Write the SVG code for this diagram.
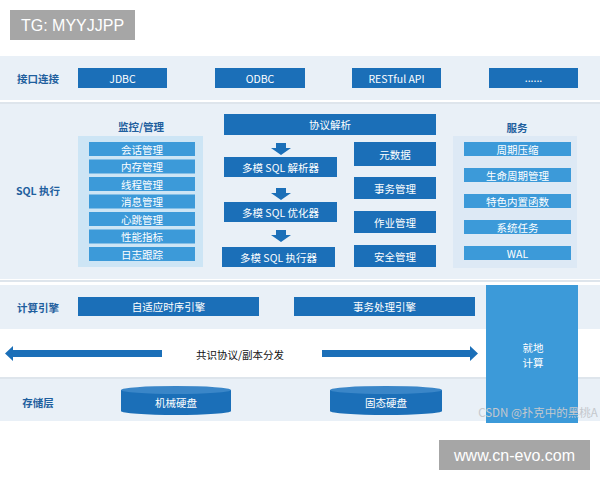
<svg xmlns="http://www.w3.org/2000/svg" width="600" height="480" viewBox="0 0 600 480">
<style>
text{font-family:"Noto Sans CJK SC","Liberation Sans",sans-serif;}
.band{fill:#e9f0f7;}
.sep{stroke:#d3dce6;stroke-width:1.5;}
.lbl{font-size:10.5px;font-weight:bold;fill:#1f5f9e;text-anchor:middle;dominant-baseline:central;}
.dk{fill:#1b6fb8;}
.md{fill:#3c9ad9;}
.wt{font-size:10.5px;fill:#ffffff;text-anchor:middle;dominant-baseline:central;}
.bt{font-size:10.5px;fill:#111111;text-anchor:middle;dominant-baseline:central;}
.wm{fill:#a6a6a6;}
.wmt{font-family:"Liberation Sans",sans-serif;font-size:16px;fill:#ffffff;text-anchor:middle;dominant-baseline:central;}
</style>
<rect width="600" height="480" fill="#ffffff"/>
<!-- bands -->
<rect class="band" x="0" y="56" width="600" height="44"/>
<line class="sep" x1="0" y1="103" x2="600" y2="103"/>
<rect class="band" x="0" y="104" width="600" height="175"/>
<line class="sep" x1="0" y1="281" x2="600" y2="281"/>
<rect class="band" x="0" y="285" width="600" height="44"/>
<line class="sep" x1="0" y1="378" x2="600" y2="378"/>
<rect class="band" x="0" y="379" width="600" height="42"/>

<g id="watermark-tg"><rect class="wm" x="10" y="10" width="125" height="30"/><text class="wmt" x="72.5" y="25">TG: MYYJJPP</text></g>

<g id="layer-labels">
<text class="lbl" x="38" y="78">接口连接</text>
<text class="lbl" x="38" y="190">SQL 执行</text>
<text class="lbl" x="38" y="307">计算引擎</text>
<text class="lbl" x="38" y="402">存储层</text>
</g>

<g id="interfaces">
<g id="jdbc"><rect class="dk" x="78" y="68" width="89" height="20"/><text class="wt" x="122.5" y="78">JDBC</text></g>
<g id="odbc"><rect class="dk" x="215" y="68" width="90" height="20"/><text class="wt" x="260" y="78">ODBC</text></g>
<g id="restful"><rect class="dk" x="352" y="68" width="89" height="20"/><text class="wt" x="396.5" y="78">RESTful API</text></g>
<g id="more"><rect class="dk" x="489" y="68" width="89" height="20"/><text class="wt" x="533.5" y="77">......</text></g>
</g>

<g id="monitor">
<text class="lbl" x="141" y="126">监控/管理</text>
<rect x="78" y="136" width="125" height="131" fill="#cde5f5"/>
<g id="m1"><rect class="md" x="89" y="142" width="106" height="14"/><text class="wt" x="142" y="149">会话管理</text></g>
<g id="m2"><rect class="md" x="89" y="159.5" width="106" height="14"/><text class="wt" x="142" y="166.5">内存管理</text></g>
<g id="m3"><rect class="md" x="89" y="177" width="106" height="14"/><text class="wt" x="142" y="184">线程管理</text></g>
<g id="m4"><rect class="md" x="89" y="194.5" width="106" height="14"/><text class="wt" x="142" y="201.5">消息管理</text></g>
<g id="m5"><rect class="md" x="89" y="212" width="106" height="14"/><text class="wt" x="142" y="219">心跳管理</text></g>
<g id="m6"><rect class="md" x="89" y="229.5" width="106" height="14"/><text class="wt" x="142" y="236.5">性能指标</text></g>
<g id="m7"><rect class="md" x="89" y="247" width="106" height="14"/><text class="wt" x="142" y="254">日志跟踪</text></g>
</g>

<g id="protocol"><rect class="dk" x="224" y="114" width="212" height="21"/><text class="wt" x="330" y="124.5">协议解析</text></g>
<g id="parser"><rect class="dk" x="224" y="157" width="113" height="20"/><text class="wt" x="280.5" y="167">多模 SQL 解析器</text></g>
<g id="optimizer"><rect class="dk" x="224" y="202" width="113" height="20"/><text class="wt" x="280.5" y="212">多模 SQL 优化器</text></g>
<g id="executor"><rect class="dk" x="222" y="247" width="113" height="20"/><text class="wt" x="278.5" y="257">多模 SQL 执行器</text></g>

<g id="metadata"><rect class="dk" x="354" y="142" width="82" height="24"/><text class="wt" x="395" y="154">元数据</text></g>
<g id="txn"><rect class="dk" x="354" y="177" width="82" height="22"/><text class="wt" x="395" y="188">事务管理</text></g>
<g id="job"><rect class="dk" x="354" y="211" width="82" height="22"/><text class="wt" x="395" y="222">作业管理</text></g>
<g id="security"><rect class="dk" x="354" y="245" width="82" height="22"/><text class="wt" x="395" y="256">安全管理</text></g>

<g id="service">
<text class="lbl" x="517" y="127">服务</text>
<rect x="453" y="136" width="124" height="132" fill="#dde9f5"/>
<g id="s1"><rect class="md" x="464" y="142" width="107" height="14"/><text class="wt" x="517.5" y="149">周期压缩</text></g>
<g id="s2"><rect class="md" x="464" y="168" width="107" height="14"/><text class="wt" x="517.5" y="175">生命周期管理</text></g>
<g id="s3"><rect class="md" x="464" y="194" width="107" height="14"/><text class="wt" x="517.5" y="201">特色内置函数</text></g>
<g id="s4"><rect class="md" x="464" y="220" width="107" height="14"/><text class="wt" x="517.5" y="227">系统任务</text></g>
<g id="s5"><rect class="md" x="464" y="246" width="107" height="14"/><text class="wt" x="517.5" y="253">WAL</text></g>
</g>

<g id="engines">
<g id="ts-engine"><rect class="dk" x="78" y="297" width="181" height="19"/><text class="wt" x="168.5" y="306.5">自适应时序引擎</text></g>
<g id="tx-engine"><rect class="dk" x="294" y="297" width="181" height="19"/><text class="wt" x="384.5" y="306.5">事务处理引擎</text></g>
</g>

<g id="local-compute"><rect class="md" x="486" y="285" width="92" height="138"/><text class="wt" x="533" y="347" font-size="10">就地</text><text class="wt" x="533" y="362" font-size="10">计算</text></g>

<g id="storage">
<g id="hdd"><path class="dk" d="M121,390 L121,411 A55,4 0 0 0 231,411 L231,390 Z"/><ellipse cx="176" cy="390" rx="55" ry="4" fill="#3a86c8"/><text class="wt" x="176" y="402">机械硬盘</text></g>
<g id="ssd"><path class="dk" d="M330,390 L330,411 A56,4 0 0 0 442,411 L442,390 Z"/><ellipse cx="386" cy="390" rx="56" ry="4" fill="#3a86c8"/><text class="wt" x="386" y="402">固态硬盘</text></g>
</g>

<g id="connectors">
<path class="dk" d="M276,143 h10 v5 h5 l-10,7 l-10,-7 h5 z"/>
<path class="dk" d="M276,188 h10 v5 h5 l-10,7 l-10,-7 h5 z"/>
<path class="dk" d="M276,230 h10 v5 h5 l-10,7 l-10,-7 h5 z"/>
<path class="dk" d="M162,350 L13,350 L13,346 L5,353.5 L13,361 L13,357 L162,357 Z"/>
<path class="dk" d="M322,350 L470,350 L470,346 L478,353.5 L470,361 L470,357 L322,357 Z"/>
<text class="bt" x="240" y="354">共识协议/副本分发</text>
</g>

<g id="watermark-csdn"><text x="538" y="412" font-size="11.5" fill="#c4c8cd" text-anchor="middle" dominant-baseline="central">CSDN @扑克中的黑桃A</text></g>
<g id="watermark-site"><rect class="wm" x="439" y="440" width="151" height="30"/><text class="wmt" x="514.5" y="455">www.cn-evo.com</text></g>
</svg>
